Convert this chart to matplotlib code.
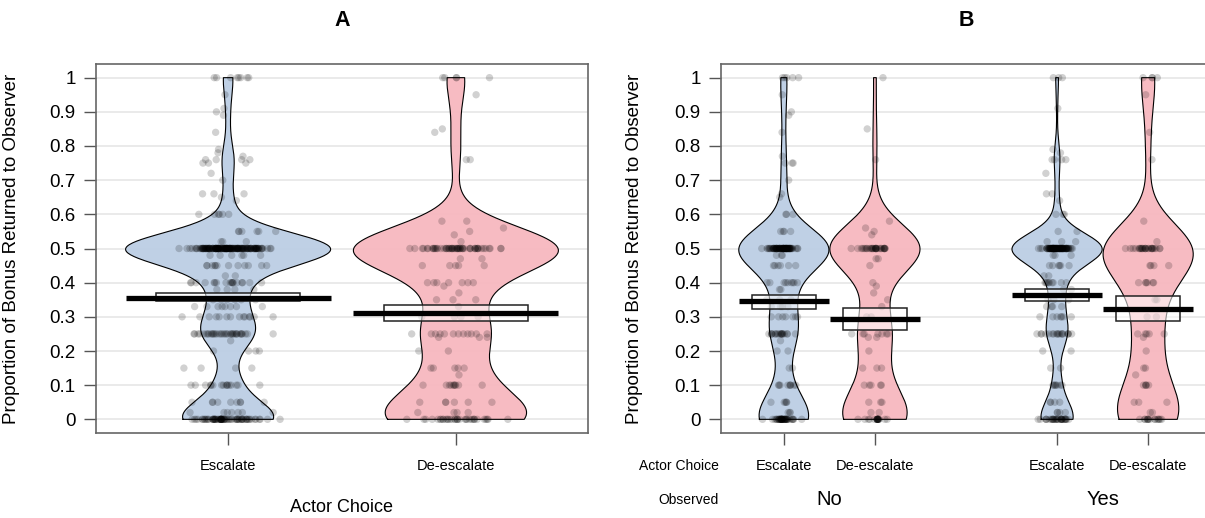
import numpy as np
import matplotlib
matplotlib.use("Agg")
import matplotlib.pyplot as plt

plt.rcParams['font.family'] = ['Liberation Sans', 'DejaVu Sans']

# ---------------- data (values, counts) ----------------
# Observed = No, Actor Choice = Escalate
no_esc_vals = [1.0, 0.95, 0.9, 0.89, 0.84, 0.77, 0.75, 0.7, 0.66, 0.65, 0.6, 0.55, 0.5, 0.48,
               0.45, 0.4, 0.38, 0.35, 0.33, 0.3, 0.25, 0.23, 0.2, 0.15, 0.1, 0.05, 0.02, 0.0]
no_esc_cnts = [5, 1, 1, 1, 1, 1, 3, 1, 1, 1, 3, 4, 80, 3,
               6, 9, 2, 3, 4, 7, 18, 1, 2, 2, 9, 5, 3, 42]
# Observed = No, Actor Choice = De-escalate
no_de_vals = [1.0, 0.85, 0.76, 0.58, 0.56, 0.55, 0.54, 0.5, 0.47, 0.45, 0.4, 0.39, 0.37, 0.35,
              0.33, 0.3, 0.25, 0.24, 0.2, 0.15, 0.1, 0.05, 0.02, 0.0]
no_de_cnts = [1, 1, 1, 1, 1, 1, 1, 30, 2, 1, 1, 1, 1, 1,
              1, 2, 7, 2, 1, 3, 5, 3, 2, 19]
# Observed = Yes, Actor Choice = Escalate
yes_esc_vals = [1.0, 0.91, 0.79, 0.78, 0.76, 0.72, 0.66, 0.64, 0.6, 0.55, 0.52, 0.5, 0.48, 0.45,
                0.42, 0.4, 0.38, 0.35, 0.33, 0.3, 0.25, 0.2, 0.15, 0.1, 0.05, 0.02, 0.0]
yes_esc_cnts = [3, 1, 1, 1, 4, 1, 2, 1, 3, 2, 3, 92, 3, 6,
                2, 9, 2, 3, 4, 7, 18, 2, 2, 7, 4, 4, 30]
# Observed = Yes, Actor Choice = De-escalate
yes_de_vals = [1.0, 0.95, 0.84, 0.76, 0.58, 0.52, 0.5, 0.45, 0.4, 0.35, 0.3, 0.25, 0.24,
               0.2, 0.15, 0.13, 0.1, 0.05, 0.02, 0.0]
yes_de_cnts = [4, 1, 1, 1, 1, 1, 26, 4, 6, 2, 2, 5, 1,
               1, 2, 1, 5, 3, 2, 15]

# summary values (mean, interval)
a_labels = ["Escalate", "De-escalate"]
a_means = [0.355, 0.310]
a_lo = [0.345, 0.287]
a_hi = [0.370, 0.335]

b_labels = ["Escalate", "De-escalate", "Escalate", "De-escalate"]
b_groups = ["No", "Yes"]
b_means = [0.345, 0.294, 0.365, 0.324]
b_lo = [0.324, 0.262, 0.345, 0.287]
b_hi = [0.365, 0.326, 0.382, 0.360]

y_ticks = [0, 0.1, 0.2, 0.3, 0.4, 0.5, 0.6, 0.7, 0.8, 0.9, 1]
y_ticklabels = ["0", "0.1", "0.2", "0.3", "0.4", "0.5", "0.6", "0.7", "0.8", "0.9", "1"]

BLUE = "#bccee4"
PINK = "#f7b8bf"


def expand(vals, cnts):
    return np.repeat(np.array(vals, float), np.array(cnts, int))


no_esc = expand(no_esc_vals, no_esc_cnts)
no_de = expand(no_de_vals, no_de_cnts)
yes_esc = expand(yes_esc_vals, yes_esc_cnts)
yes_de = expand(yes_de_vals, yes_de_cnts)


def _hash(i, a, b):
    v = np.sin(i * a + b) * 43758.5453
    return v - np.floor(v)


def jitter(n, sd, lim, offset):
    # deterministic scatter offsets (hash + Box-Muller), display only
    i = np.arange(1, n + 1, dtype=float) + offset
    u1 = _hash(i, 12.9898, 78.233) * 0.998 + 0.001
    u2 = _hash(i, 39.3468, 11.135)
    z = np.sqrt(-2 * np.log(u1)) * np.cos(2 * np.pi * u2)
    return np.clip(z * sd, -lim, lim)


def kde(data, grid, adjust=0.78):
    n = len(data)
    sd = np.std(data, ddof=1)
    q75, q25 = np.percentile(data, [75, 25])
    lo = min(sd, (q75 - q25) / 1.34)
    if lo <= 0:
        lo = sd
    bw = 0.9 * lo * n ** (-0.2) * adjust
    d = np.exp(-0.5 * ((grid[:, None] - data[None, :]) / bw) ** 2).sum(axis=1)
    return d / (n * bw * np.sqrt(2 * np.pi))


def pirate(ax, x, data, mean, lo, hi, color, width, boxw, jsd, order):
    grid = np.linspace(data.min(), data.max(), 400)
    d = kde(data, grid)
    d = d / d.max() * width
    ax.fill_betweenx(grid, x - d, x + d, facecolor=color, edgecolor="none", alpha=0.95, zorder=2)
    ax.plot(np.r_[x - d, (x + d)[::-1], (x - d)[0]], np.r_[grid, grid[::-1], grid[0]],
            color="black", lw=0.8, zorder=3)
    jx = jitter(len(data), jsd, 0.3 * width / 0.45, order)
    ax.scatter(x + jx, data, s=28, color="black", alpha=0.18, edgecolors="none", zorder=4)
    ax.add_patch(plt.Rectangle((x - boxw, lo), 2 * boxw, hi - lo, facecolor="white",
                               alpha=0.55, edgecolor="none", zorder=5))
    ax.add_patch(plt.Rectangle((x - boxw, lo), 2 * boxw, hi - lo, facecolor="none",
                               edgecolor="#222222", lw=1.1, zorder=6))
    ax.plot([x - width, x + width], [mean, mean], color="black", lw=3.8,
            solid_capstyle="butt", zorder=7)


def style(ax, xlim, xt):
    ax.set_xlim(*xlim)
    ax.set_ylim(-0.04, 1.04)
    for y in y_ticks:
        ax.axhline(y, color="#e8e8e8", lw=1.3, zorder=1)
    ax.set_yticks(y_ticks)
    ax.set_yticklabels(y_ticklabels, fontsize=13.5)
    ax.set_xticks(xt)
    ax.tick_params(axis="y", length=8.5, width=1, color="#555555", pad=6)
    ax.tick_params(axis="x", length=8.5, width=1, color="#555555", labelbottom=False)
    for s in ax.spines.values():
        s.set_color("#666666")
        s.set_linewidth(1.2)
        s.set_zorder(8)


fig = plt.figure(figsize=(12.05, 5.18), dpi=100)
W, H = 1205.0, 518.0
bot = 1 - 433 / H
hgt = (433 - 64) / H
axA = fig.add_axes([96 / W, bot, (588 - 96) / W, hgt])
axB = fig.add_axes([721 / W, bot, (1211 - 721) / W, hgt])

YLAB = "Proportion of Bonus Returned to Observer"

# ---------------- panel A ----------------
style(axA, (0.42, 2.58), [1, 2])
a_data = [np.r_[no_esc, yes_esc], np.r_[no_de, yes_de]]
for i, (dat, col) in enumerate(zip(a_data, [BLUE, PINK])):
    pirate(axA, i + 1, dat, a_means[i], a_lo[i], a_hi[i], col, 0.45, 0.315, 0.085, 17 * i)
for i, lab in enumerate(a_labels):
    axA.text(i + 1, -0.04 - 33 / 342, lab, ha="center", va="center", fontsize=10.5)
axA.set_ylabel(YLAB, fontsize=13.5)
axA.yaxis.set_label_coords(-76 / 492, 0.5)
axA.text(0.5, -75 / 369, "Actor Choice", transform=axA.transAxes, ha="center",
         va="center", fontsize=13)
axA.text(0.5, 1 + 44 / 369, "A", transform=axA.transAxes, ha="center", va="center",
         fontsize=15.5, fontweight="bold")

# ---------------- panel B ----------------
b_pos = [1, 2, 4, 5]
style(axB, (0.31, 5.69), b_pos)
b_data = [no_esc, no_de, yes_esc, yes_de]
b_cols = [BLUE, PINK, BLUE, PINK]
for i in range(4):
    pirate(axB, b_pos[i], b_data[i], b_means[i], b_lo[i], b_hi[i], b_cols[i], 0.495, 0.35,
           0.09, 500 + 300 * i)
for p, lab in zip(b_pos, b_labels):
    axB.text(p, -0.04 - 33 / 342, lab, ha="center", va="center", fontsize=10.5)
axB.text(-2 / 490, -33 / 369, "Actor Choice", transform=axB.transAxes, ha="right",
         va="center", fontsize=10)
axB.text(-2 / 490, -67 / 369, "Observed", transform=axB.transAxes, ha="right",
         va="center", fontsize=10)
for c, g in zip([1.5, 4.5], b_groups):
    axB.text(c, -0.04 - 67 / 342, g, ha="center", va="center", fontsize=14.5)
axB.set_ylabel(YLAB, fontsize=13.5)
axB.yaxis.set_label_coords(-78 / 490, 0.5)
axB.text(0.5, 1 + 44 / 369, "B", transform=axB.transAxes, ha="center",
         va="center", fontsize=15.5, fontweight="bold")

fig.savefig("out.png", dpi=100)
